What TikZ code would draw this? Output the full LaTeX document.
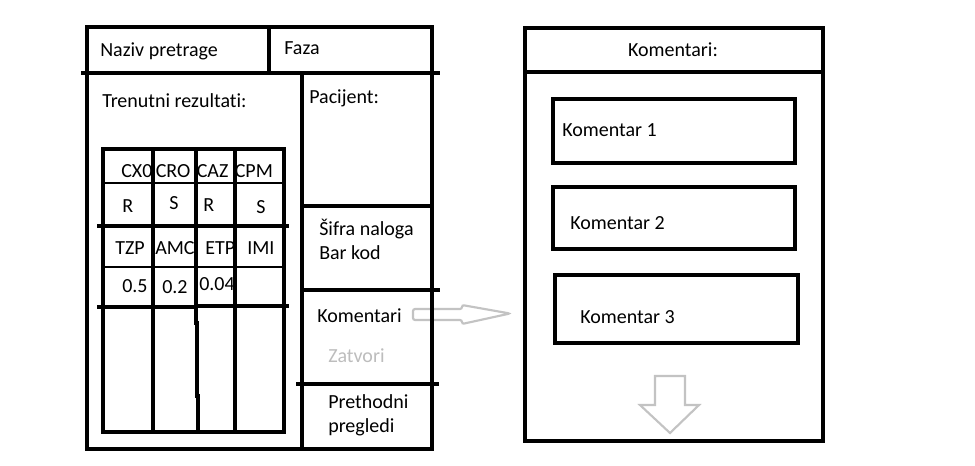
\documentclass[tikz,border=0pt]{standalone}
\usepackage{fontspec}
\setmainfont{Carlito}[Ligatures=NoCommon]
\definecolor{arrowgrey}{HTML}{C3C3C3}
\definecolor{textgrey}{HTML}{BDBDBD}
\begin{document}
\begin{tikzpicture}[x=0.75pt,y=-0.75pt,
  frame/.style={line width=3pt,line cap=rect},
  thin/.style={line width=1pt},
  txt/.style={anchor=base west,inner sep=0pt,font=\fontsize{15}{18}\selectfont},
  hollow/.style={draw=arrowgrey,line width=1.6pt,line join=miter}]
\useasboundingbox (0,0) rectangle (975,465);
\fill[white] (0,0) rectangle (975,465);

% grey block arrows (drawn below the frames)
\draw[hollow,rounded corners=1.5pt] (413,309) -- (462,309) -- (462,305) -- (510,313.5) -- (462,324) -- (462,320) -- (413,320) -- cycle;
\draw[hollow] (655,376) -- (685,376) -- (685,405) -- (699,405) -- (670,433) -- (640,405) -- (655,405) -- cycle;

% ---------- left frame ----------
\draw[frame] (87,27) rectangle (432,449);
\draw[frame] (83,73) -- (438,73);
\draw[frame] (269,27) -- (269,73);
\draw[frame] (302,73) -- (302,449);
\draw[frame] (302,206) -- (432,206);
\draw[frame] (302,290) -- (438,290);
\draw[frame] (298,384) -- (437,384);

% ---------- results table ----------
\draw[frame] (103,149) rectangle (284,432);
\draw[frame] (153,149) -- (153,432);
\draw[frame] (195.5,149) -- (195.5,323);
\draw[frame] (197,323) -- (197,396);
\draw[frame] (198,396) -- (198,432);
\draw[frame] (235,149) -- (235,432);
\draw[thin] (103,183) -- (284,183);
\draw[thin] (103,267) -- (284,267);
\draw[frame] (99,226) -- (287,226);
\draw[frame] (99,307) -- (196,307);
\draw[frame] (196,306) -- (287,306);

% ---------- right frame ----------
\draw[frame] (525,28) rectangle (823,441);
\draw[frame] (525,72) -- (823,72);
\draw[frame] (553,99) rectangle (795,163);
\draw[frame] (553,187) rectangle (795,249);
\draw[frame] (555,275) rectangle (798,343);

% ---------- texts ----------
\node[txt] (naziv) at (100,56) {Naziv pretrage};
\node[txt] (faza) at (284,54) {Faza};
\node[txt] (trenutni) at (102,107) {Trenutni rezultati:};
\node[txt] (pacijent) at (309,103) {Pacijent:};

\node[txt] (h1) at (121,177) {CX0};
\node[txt] (h2) at (155.5,177) {CRO};
\node[txt] (h3) at (196.5,177) {CAZ};
\node[txt] (h4) at (234.5,177) {CPM};
\node[txt] (v1) at (122,212) {R};
\node[txt] (v2) at (169,209) {S};
\node[txt] (v3) at (203,211) {R};
\node[txt] (v4) at (256,213) {S};
\node[txt] (h5) at (115,254) {TZP};
\node[txt] (h6) at (155,254) {AMC};
\node[txt] (h7) at (205,254) {ETP};
\node[txt] (h8) at (247,254) {IMI};
\node[txt] (v5) at (122,292) {0.5};
\node[txt] (v6) at (162,293) {0.2};
\node[txt] (v7) at (199,290) {0.04};

\node[txt] (sifra) at (319,235) {Šifra naloga};
\node[txt] (barkod) at (319,259) {Bar kod};
\node[txt] (kom) at (317,322) {Komentari};
\node[txt,text=textgrey] (zatvori) at (328,362) {Zatvori};
\node[txt] (preth) at (328,408) {Prethodni};
\node[txt] (pregl) at (328,432) {pregledi};

\node[txt,anchor=base] (komhead) at (673,56) {Komentari:};
\node[txt] (k1) at (562,136) {Komentar 1};
\node[txt] (k2) at (570,229) {Komentar 2};
\node[txt] (k3) at (580,323) {Komentar 3};
\end{tikzpicture}
\end{document}
